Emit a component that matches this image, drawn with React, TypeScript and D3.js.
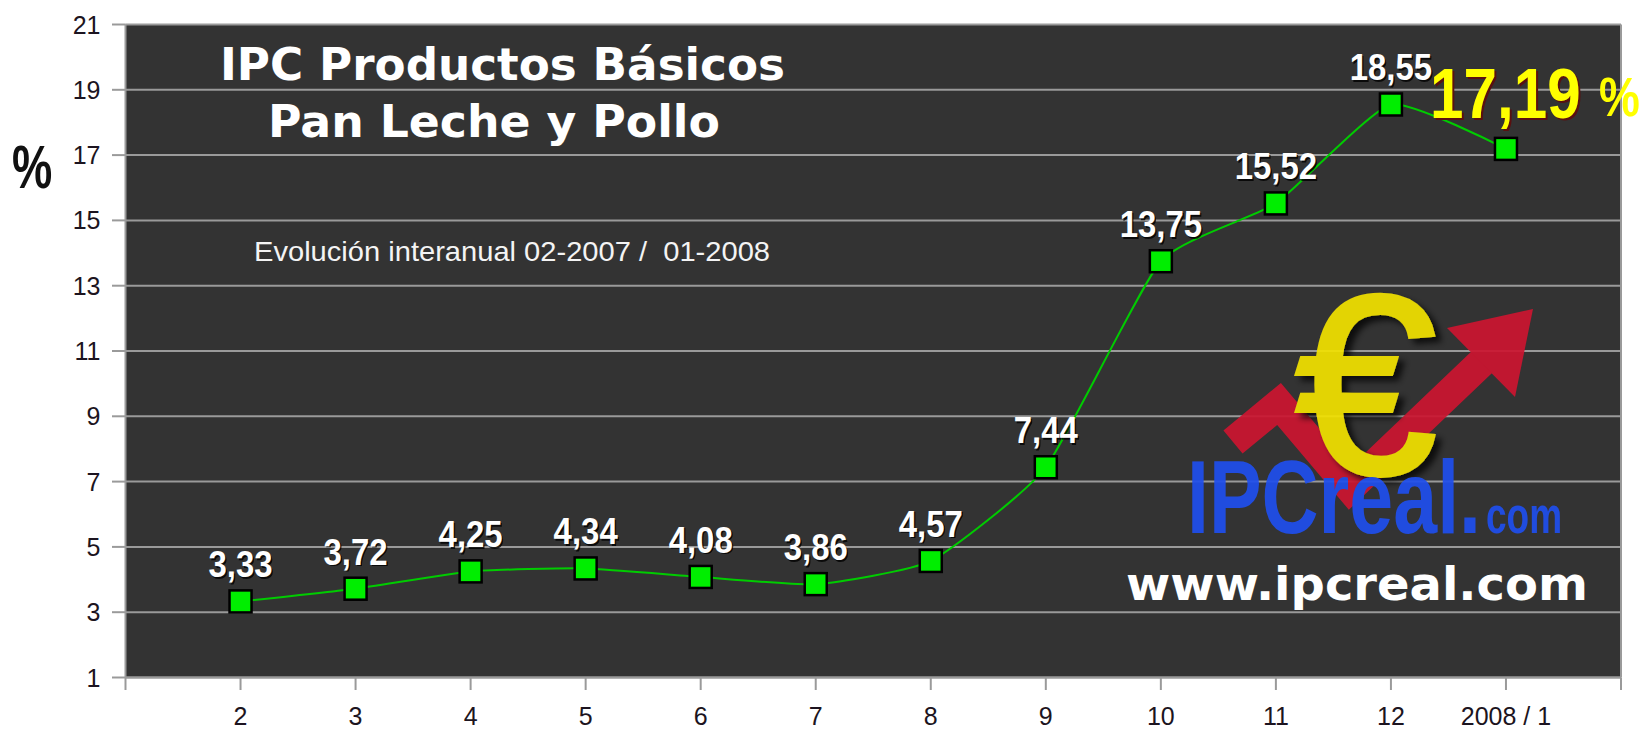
import React from 'react';
import * as d3 from 'd3';

const categories = ['2', '3', '4', '5', '6', '7', '8', '9', '10', '11', '12', '2008 / 1'];
const values = [3.33, 3.72, 4.25, 4.34, 4.08, 3.86, 4.57, 7.44, 13.75, 15.52, 18.55, 17.19];
const yTicks = [1, 3, 5, 7, 9, 11, 13, 15, 17, 19, 21];
const titleLines = ['IPC Productos Básicos', 'Pan Leche y Pollo'];
const subtitle = 'Evolución interanual 02-2007 /  01-2008';
const yAxisLabel = '%';

const W = 1647;
const H = 729;
const plot = { left: 125.5, right: 1621, top: 24.5, bottom: 677.5 };
const arial = '"Liberation Sans", Arial, sans-serif';
const verdana = '"DejaVu Sans", Verdana, sans-serif';

export default function App() {
  const x = d3.scalePoint<string>().domain(categories).range([plot.left, plot.right]).padding(1);
  const y = d3.scaleLinear().domain([1, 21]).range([plot.bottom, plot.top]);
  const xTickPos = [plot.left, ...categories.map((c) => x(c) as number), plot.right];
  const line = d3
    .line<number>()
    .x((_, i) => x(categories[i]) as number)
    .y((d) => y(d))
    .curve(d3.curveCardinal.tension(0.5));
  const fmt = (v: number) => d3.format('.2f')(v).replace('.', ',');
  const gridColor = '#9a9a9a';
  const lastIdx = values.length - 1;

  return (
    <svg
      width={W}
      height={H}
      style={{ position: 'absolute', left: 0, top: 0, background: '#fff' }}
    >
      <defs>
        <filter id="sh" x="-20%" y="-20%" width="140%" height="140%">
          <feGaussianBlur in="SourceAlpha" stdDeviation="3" />
          <feOffset dx="6" dy="5" result="o" />
          <feComponentTransfer>
            <feFuncA type="linear" slope="0.8" />
          </feComponentTransfer>
          <feMerge>
            <feMergeNode />
            <feMergeNode in="SourceGraphic" />
          </feMerge>
        </filter>
      </defs>
      <rect x={0} y={0} width={W} height={H} fill="#fff" />
      {/* plot background */}
      <rect
        x={plot.left}
        y={plot.top}
        width={plot.right - plot.left}
        height={plot.bottom - plot.top}
        fill="#333333"
      />
      {/* grid lines */}
      {yTicks.map((t) => (
        <line
          key={'g' + t}
          x1={plot.left}
          x2={plot.right}
          y1={y(t)}
          y2={y(t)}
          stroke={gridColor}
          strokeWidth={2}
        />
      ))}
      {/* y ticks & labels */}
      {yTicks.map((t) => (
        <g key={'yt' + t}>
          <line x1={112} x2={plot.left} y1={y(t)} y2={y(t)} stroke={gridColor} strokeWidth={2} />
          <text
            x={100.5}
            y={y(t)}
            dy="0.36em"
            textAnchor="end"
            fontFamily={arial}
            fontSize={25}
            fill="#1c1420"
          >
            {t}
          </text>
        </g>
      ))}
      {/* x ticks */}
      {xTickPos.map((p, i) => (
        <line key={'xt' + i} x1={p} x2={p} y1={plot.bottom} y2={690} stroke={gridColor} strokeWidth={2} />
      ))}
      {categories.map((c) => (
        <text
          key={'xl' + c}
          x={x(c) as number}
          y={725}
          textAnchor="middle"
          fontFamily={arial}
          fontSize={25}
          fill="#1c1420"
        >
          {c}
        </text>
      ))}
      {/* frame */}
      <line x1={plot.left} x2={plot.left} y1={plot.top} y2={plot.bottom} stroke={gridColor} strokeWidth={2} />
      <line x1={plot.right} x2={plot.right} y1={plot.top} y2={plot.bottom} stroke={gridColor} strokeWidth={2} />
      <line x1={plot.left} x2={plot.right} y1={plot.bottom} y2={plot.bottom} stroke={gridColor} strokeWidth={2} />

      {/* % axis label */}
      <text
        transform="translate(12,188) scale(0.73,1)"
        fontFamily={arial}
        fontWeight="bold"
        fontSize={62}
        fill="#111"
      >
        {yAxisLabel}
      </text>

      {/* Logo */}
      <g opacity={0.92}>
        <polyline
          points="1233,442 1279,404 1350,488 1482,362"
          fill="none"
          stroke="#cc1530"
          strokeWidth={30}
          strokeLinejoin="miter"
          strokeMiterlimit={10}
        />
        <polygon points="1447,328 1533,309 1515,397" fill="#cc1530" />
        <text
          x={1366}
          y={474}
          textAnchor="middle"
          fontFamily={arial}
          fontSize={256}
          fill="#f2e205"
          stroke="#f2e205"
          strokeWidth={4}
          filter="url(#sh)"
        >
          €
        </text>
        <text
          x={1187}
          y={533}
          fontFamily={arial}
          fontWeight="bold"
          fontSize={104}
          fill="#1f4fee"
          textLength={294}
          lengthAdjust="spacingAndGlyphs"
        >
          IPCreal.
        </text>
        <text
          x={1486}
          y={533}
          fontFamily={arial}
          fontWeight="bold"
          fontSize={52}
          fill="#1f4fee"
          textLength={76}
          lengthAdjust="spacingAndGlyphs"
        >
          com
        </text>
      </g>
      <text
        x={1126}
        y={600}
        fontFamily={verdana}
        fontWeight="bold"
        fontSize={47}
        fill="#fff"
        textLength={462}
        lengthAdjust="spacingAndGlyphs"
      >
        www.ipcreal.com
      </text>

      {/* Titles */}
      <text
        x={220}
        y={80}
        fontFamily={verdana}
        fontWeight="bold"
        fontSize={45}
        fill="#fff"
        textLength={565}
        lengthAdjust="spacingAndGlyphs"
      >
        {titleLines[0]}
      </text>
      <text
        x={268}
        y={137}
        fontFamily={verdana}
        fontWeight="bold"
        fontSize={45}
        fill="#fff"
        textLength={452}
        lengthAdjust="spacingAndGlyphs"
      >
        {titleLines[1]}
      </text>
      <text
        x={254}
        y={261}
        fontFamily={arial}
        fontSize={28}
        fill="#f4f4f4"
        textLength={516}
        lengthAdjust="spacingAndGlyphs"
        style={{ whiteSpace: 'pre' }}
      >
        {subtitle}
      </text>

      {/* data line */}
      <path d={line(values) || ''} fill="none" stroke="#00cc00" strokeWidth={2} />
      {values.map((v, i) => (
        <rect
          key={'m' + i}
          x={(x(categories[i]) as number) - 11}
          y={y(v) - 11}
          width={22}
          height={22}
          fill="#00ee00"
          stroke="#000"
          strokeWidth={2.5}
        />
      ))}
      {values.map((v, i) => {
        if (i === lastIdx) return null;
        const cx = x(categories[i]) as number;
        const by = y(v) - 24;
        return (
          <g key={'l' + i}>
            <text
              transform={`translate(${cx + 1.5},${by + 1.5}) scale(0.89,1)`}
              textAnchor="middle"
              fontFamily={arial}
              fontWeight="bold"
              fontSize={37}
              fill="#000"
              opacity={0.8}
            >
              {fmt(v)}
            </text>
            <text
              transform={`translate(${cx},${by}) scale(0.89,1)`}
              textAnchor="middle"
              fontFamily={arial}
              fontWeight="bold"
              fontSize={37}
              fill="#fff"
            >
              {fmt(v)}
            </text>
          </g>
        );
      })}

      {/* highlight value for the last month */}
      <text
        transform="translate(1432,120) scale(0.86,1)"
        fontFamily={arial}
        fontWeight="bold"
        fontSize={70}
        fill="#5a1010"
      >
        {fmt(values[lastIdx])}
      </text>
      <text
        transform="translate(1430,118) scale(0.86,1)"
        fontFamily={arial}
        fontWeight="bold"
        fontSize={70}
        fill="#ffff00"
      >
        {fmt(values[lastIdx])}
      </text>
      <text
        transform="translate(1599,116) scale(0.82,1)"
        fontFamily={arial}
        fontWeight="bold"
        fontSize={56}
        fill="#ffff00"
      >
        %
      </text>
    </svg>
  );
}
